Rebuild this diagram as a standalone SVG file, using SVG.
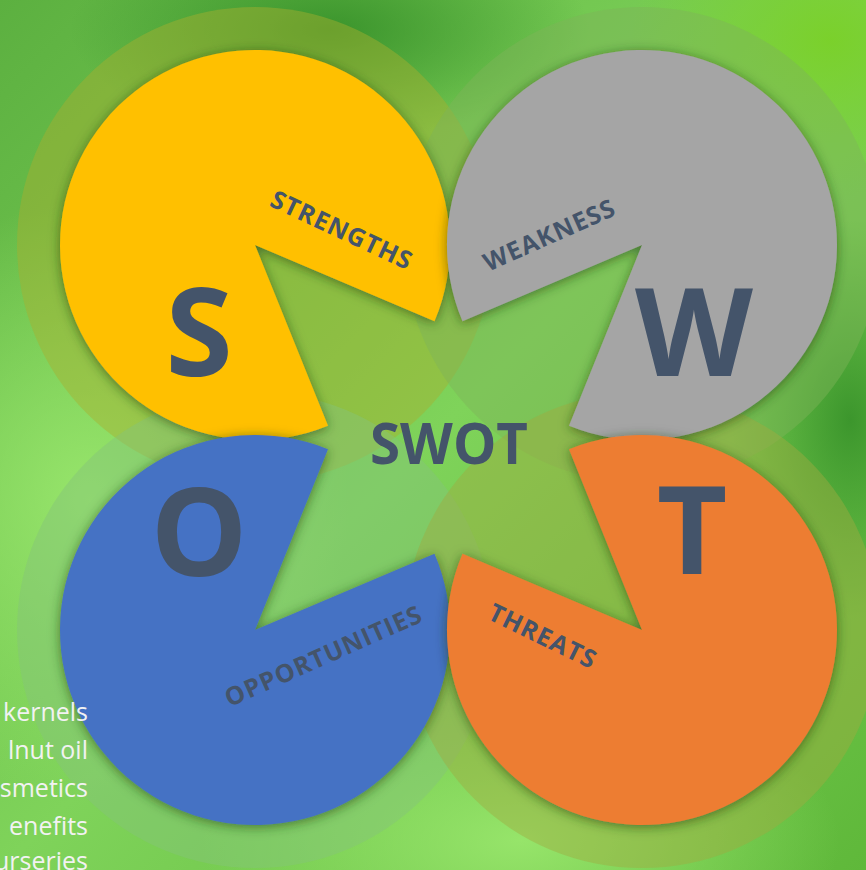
<svg xmlns="http://www.w3.org/2000/svg" width="866" height="870" viewBox="0 0 866 870">
<defs>
<linearGradient id="bg" x1="0" y1="0" x2="1" y2="1">
<stop offset="0" stop-color="#5cb040"/>
<stop offset="0.5" stop-color="#7fd35a"/>
<stop offset="1" stop-color="#5fb83a"/>
</linearGradient>
<radialGradient id="glow1" cx="0.5" cy="0.5" r="0.5">
<stop offset="0" stop-color="#9be86e" stop-opacity="0.9"/>
<stop offset="1" stop-color="#9be86e" stop-opacity="0"/>
</radialGradient>
<radialGradient id="dark1" cx="0.5" cy="0.5" r="0.5">
<stop offset="0" stop-color="#2f8a25" stop-opacity="0.8"/>
<stop offset="1" stop-color="#2f8a25" stop-opacity="0"/>
</radialGradient>
<radialGradient id="bright1" cx="0.5" cy="0.5" r="0.5">
<stop offset="0" stop-color="#7ad026" stop-opacity="0.9"/>
<stop offset="1" stop-color="#7ad026" stop-opacity="0"/>
</radialGradient>
<filter id="sh" x="-20%" y="-20%" width="140%" height="140%">
<feDropShadow dx="0" dy="2" stdDeviation="6" flood-color="#1a3a10" flood-opacity="0.6"/>
</filter>
<style>
.big{font-family:"Open Sans","Liberation Sans",sans-serif;font-weight:700;fill:#44546A}
.lbl{font-family:"Open Sans","Liberation Sans",sans-serif;font-weight:700;fill:#44546A;font-size:25px;letter-spacing:1px;text-anchor:middle}
.side{font-family:"Open Sans","Liberation Sans",sans-serif;font-size:25px;fill:#f2f2f2;text-anchor:end}
.halo{stroke:none}
</style>
</defs>
<rect width="866" height="870" fill="url(#bg)"/>
<ellipse cx="90" cy="500" rx="260" ry="300" fill="url(#glow1)"/>
<ellipse cx="520" cy="840" rx="320" ry="160" fill="url(#glow1)"/>
<ellipse cx="330" cy="30" rx="260" ry="110" fill="url(#dark1)"/>
<ellipse cx="830" cy="40" rx="200" ry="160" fill="url(#bright1)"/>
<ellipse cx="850" cy="420" rx="120" ry="200" fill="url(#dark1)"/>

<g id="halos">
<circle class="halo" cx="255" cy="245" r="238" fill="#a8b02e" fill-opacity="0.45"/>
<circle class="halo" cx="642" cy="245" r="238" fill="#7fb458" fill-opacity="0.45"/>
<circle class="halo" cx="255" cy="630" r="238" fill="#86c47a" fill-opacity="0.45"/>
<circle class="halo" cx="642" cy="630" r="238" fill="#a0aa40" fill-opacity="0.45"/>
</g>

<g id="strengths">
<path d="M255 245 L328 425.8 A195 195 0 1 1 434.5 321.2 Z" fill="#FFC000" filter="url(#sh)"/>
<text class="big" x="199" y="376" font-size="122" text-anchor="middle">S</text>
<text class="lbl" transform="translate(338,238) rotate(25)">STRENGTHS</text>
</g>

<g id="weakness">
<path d="M642 245 L462.5 321.2 A195 195 0 1 1 569 425.8 Z" fill="#A5A5A5" filter="url(#sh)"/>
<text class="big" x="694" y="376" font-size="122" text-anchor="middle">W</text>
<text class="lbl" transform="translate(553,243) rotate(-24)">WEAKNESS</text>
</g>

<g id="opportunities">
<path d="M255 630 L434.5 553.8 A195 195 0 1 1 328 449.2 Z" fill="#4472C4" filter="url(#sh)"/>
<text class="big" x="199" y="576" font-size="122" text-anchor="middle">O</text>
<text class="lbl" transform="translate(327,664) rotate(-24)">OPPORTUNITIES</text>
</g>

<g id="threats">
<path d="M642 630 L569 449.2 A195 195 0 1 1 462.5 553.8 Z" fill="#ED7D31" filter="url(#sh)"/>
<text class="big" x="692" y="574" font-size="122" text-anchor="middle">T</text>
<text class="lbl" transform="translate(539,644) rotate(26)">THREATS</text>
</g>

<g id="swot">
<text class="big" x="449" y="464" font-size="58" text-anchor="middle" textLength="158" lengthAdjust="spacingAndGlyphs">SWOT</text>
</g>

<g id="sidetext">
<text class="side" x="88" y="721">kernels</text>
<text class="side" x="88" y="759">lnut oil</text>
<text class="side" x="88" y="797">smetics</text>
<text class="side" x="88" y="835">enefits</text>
<text class="side" x="88" y="870">urseries</text>
</g>
</svg>
